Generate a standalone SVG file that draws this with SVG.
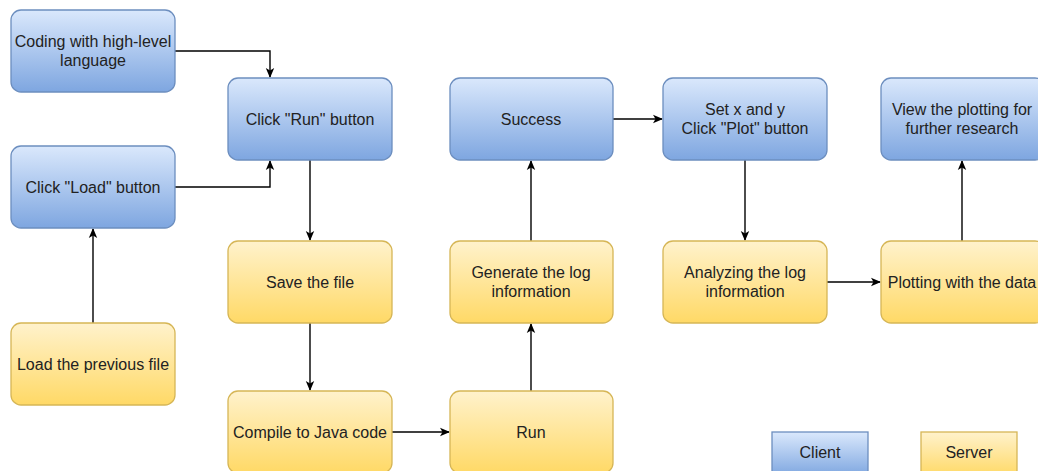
<svg xmlns="http://www.w3.org/2000/svg" width="1038" height="471" viewBox="0 0 1038 471">
<style>
.c{fill:url(#gb);stroke:#6c8ebf;stroke-width:1.3}
.s{fill:url(#gy);stroke:#d6b656;stroke-width:1.3}
text{font-family:"Liberation Sans",Arial,Helvetica,sans-serif;font-size:16px;fill:#222;text-anchor:middle}
.e{fill:none;stroke:#000;stroke-width:1.4;marker-end:url(#ar)}
</style>
<defs>
<linearGradient id="gb" x1="0" y1="0" x2="0" y2="1"><stop offset="0" stop-color="#dae8fc"/><stop offset="1" stop-color="#7ea6e0"/></linearGradient>
<linearGradient id="gy" x1="0" y1="0" x2="0" y2="1"><stop offset="0" stop-color="#fff2cc"/><stop offset="1" stop-color="#ffd966"/></linearGradient>
<marker id="ar" markerWidth="10" markerHeight="10" viewBox="0 0 10 10" refX="9" refY="5" orient="auto" markerUnits="userSpaceOnUse"><path d="M0,0.8 L10,5 L0,9.2 L2.5,5 Z" fill="#000"/></marker>
</defs>
<rect width="1038" height="471" fill="#fff"/>
<g id="connectors">
<path class="e" d="M175,51 H270 V77"/>
<path class="e" d="M175,187 H270 V161"/>
<path class="e" d="M93,323 V229"/>
<path class="e" d="M310,160 V240"/>
<path class="e" d="M310,323 V390"/>
<path class="e" d="M392,432 H449"/>
<path class="e" d="M531,391 V324"/>
<path class="e" d="M531,241 V161"/>
<path class="e" d="M613,119 H662"/>
<path class="e" d="M745,160 V240"/>
<path class="e" d="M827,282 H880"/>
<path class="e" d="M962,241 V161"/>
</g>
<g id="coding"><rect class="c" x="11" y="10" width="164" height="82" rx="10"/><text x="93" y="47">Coding with high-level</text><text x="93" y="66">language</text></g>
<g id="clickrun"><rect class="c" x="228" y="78" width="164" height="82" rx="10"/><text x="310" y="125">Click "Run" button</text></g>
<g id="clickload"><rect class="c" x="11" y="146" width="164" height="82" rx="10"/><text x="93" y="193">Click "Load" button</text></g>
<g id="loadprev"><rect class="s" x="11" y="323" width="164" height="82" rx="10"/><text x="93" y="370">Load the previous file</text></g>
<g id="save"><rect class="s" x="228" y="241" width="164" height="82" rx="10"/><text x="310" y="288">Save the file</text></g>
<g id="compile"><rect class="s" x="228" y="391" width="164" height="82" rx="10"/><text x="310" y="438">Compile to Java code</text></g>
<g id="success"><rect class="c" x="450" y="78" width="163" height="82" rx="10"/><text x="531" y="125">Success</text></g>
<g id="generate"><rect class="s" x="450" y="241" width="163" height="82" rx="10"/><text x="531" y="278">Generate the log</text><text x="531" y="297">information</text></g>
<g id="run"><rect class="s" x="450" y="391" width="163" height="82" rx="10"/><text x="531" y="438">Run</text></g>
<g id="setxy"><rect class="c" x="663" y="78" width="164" height="82" rx="10"/><text x="745" y="115">Set x and y</text><text x="745" y="134">Click "Plot" button</text></g>
<g id="analyze"><rect class="s" x="663" y="241" width="164" height="82" rx="10"/><text x="745" y="278">Analyzing the log</text><text x="745" y="297">information</text></g>
<g id="view"><rect class="c" x="881" y="78" width="164" height="82" rx="10"/><text x="962" y="115">View the plotting for</text><text x="962" y="134">further research</text></g>
<g id="plotting"><rect class="s" x="881" y="241" width="164" height="82" rx="10"/><text x="962" y="288">Plotting with the data</text></g>
<g id="legend-client"><rect class="c" x="772" y="432" width="96" height="44"/><text x="820" y="458">Client</text></g>
<g id="legend-server"><rect class="s" x="921" y="432" width="96" height="44"/><text x="969" y="458">Server</text></g>
</svg>
